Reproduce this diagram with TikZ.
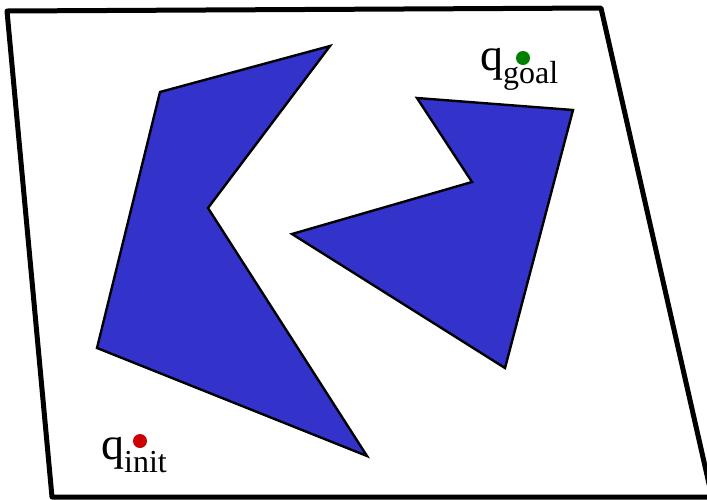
\documentclass[tikz,border=0pt]{standalone}
\usepackage{fontspec}
\setmainfont{Liberation Serif}
\definecolor{obst}{RGB}{51,51,204}
\definecolor{initred}{RGB}{204,0,0}
\definecolor{goalgreen}{RGB}{0,128,0}
\tikzset{
  frame/.style={line width=5pt, line join=round},
  obstacle/.style={fill=obst, draw=black, line width=2.4pt, line join=miter},
  cfgdot/.style={circle, inner sep=0pt, minimum size=14pt},
  cfglabel/.style={inner sep=0pt, anchor=base west}
}
\newcommand{\cfgtext}[1]{{\fontsize{46}{46}\selectfont q}\raisebox{-13pt}{\fontsize{32}{32}\selectfont #1}}
\begin{document}
\begin{tikzpicture}[x=1pt,y=-1pt]
\useasboundingbox (0,0) rectangle (707,499);
\clip (0,0) rectangle (707,499);
\coordinate (f1) at (7,11);
\coordinate (f2) at (601,8);
\coordinate (f3) at (712,497);
\coordinate (f4) at (52,497);
\draw[frame] (f1) -- (f2) -- (f3) -- (f4) -- cycle;
\coordinate (a1) at (160,92);
\coordinate (a2) at (330,46);
\coordinate (a3) at (208,208);
\coordinate (a4) at (367,456);
\coordinate (a5) at (97,348);
\draw[obstacle] (a1) -- (a2) -- (a3) -- (a4) -- (a5) -- cycle;
\coordinate (b1) at (417,98);
\coordinate (b2) at (573,110);
\coordinate (b3) at (505,368);
\coordinate (b4) at (292,234);
\coordinate (b5) at (472,182);
\draw[obstacle] (b1) -- (b2) -- (b3) -- (b4) -- (b5) -- cycle;
\node[cfgdot, fill=initred] (qi) at (140,441) {};
\node[cfgdot, fill=goalgreen] (qg) at (523,58) {};
\node[cfglabel] (li) at (101,459) {\cfgtext{init}};
\node[cfglabel] (lg) at (480,70) {\cfgtext{goal}};
\end{tikzpicture}
\end{document}
